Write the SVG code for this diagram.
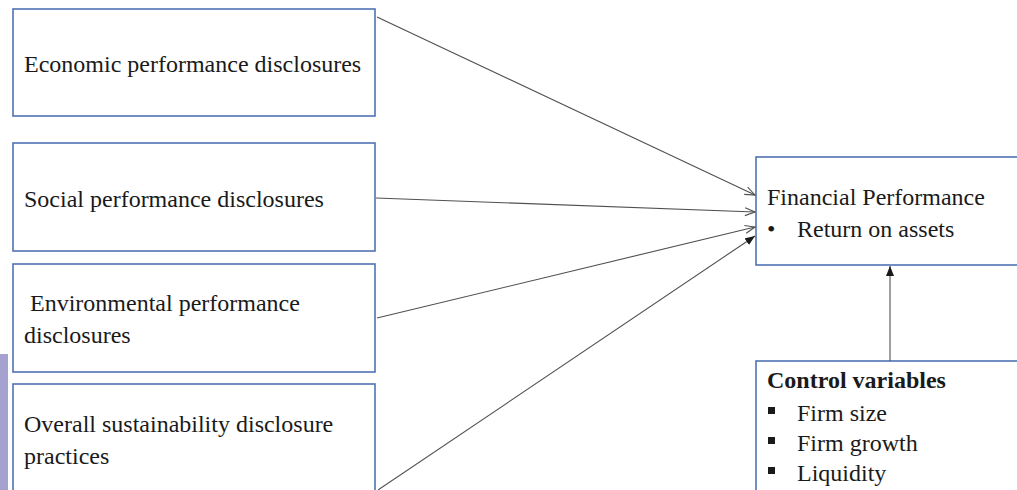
<svg xmlns="http://www.w3.org/2000/svg" width="1017" height="490" viewBox="0 0 1017 490">
<defs>
<style>
.box{fill:#fff;stroke:#4f72b3;stroke-width:1.6}
.t{font-family:"Liberation Serif","Times New Roman",serif;font-size:24px;fill:#1a1a1a}
.b{font-weight:bold}
.c{stroke:#505050;stroke-width:1.1;fill:none}
</style>
<marker id="open" viewBox="0 0 12 10" refX="11" refY="5" markerWidth="12" markerHeight="10" markerUnits="userSpaceOnUse" orient="auto">
<path d="M1,1 L11,5 L1,9" fill="none" stroke="#505050" stroke-width="1.1"/>
</marker>
<marker id="fill" viewBox="0 0 10 8" refX="10" refY="4" markerWidth="10" markerHeight="8" markerUnits="userSpaceOnUse" orient="auto">
<path d="M0,0 L10,4 L0,8 Z" fill="#1a1a1a"/>
</marker>
</defs>
<rect width="1017" height="490" fill="#fff"/>
<rect x="0" y="354" width="8" height="136" fill="#a6a2cf"/>
<g id="n1"><rect class="box" x="13" y="9" width="362" height="107"/><text class="t" x="24" y="72">Economic performance disclosures</text></g>
<g id="n2"><rect class="box" x="13" y="143" width="362" height="108"/><text class="t" x="24" y="207">Social performance disclosures</text></g>
<g id="n3"><rect class="box" x="13" y="264" width="362" height="108"/><text class="t" x="30" y="311">Environmental performance</text><text class="t" x="24" y="343">disclosures</text></g>
<g id="n4"><rect class="box" x="13" y="384" width="362" height="120"/><text class="t" x="24" y="432">Overall sustainability disclosure</text><text class="t" x="24" y="464">practices</text></g>
<g id="n5"><rect class="box" x="756" y="157" width="270" height="108"/><text class="t" x="767" y="205">Financial Performance</text><text class="t" x="767" y="237">•</text><text class="t" x="797" y="237">Return on assets</text></g>
<g id="n6"><rect class="box" x="756" y="361" width="270" height="140"/><text class="t b" x="767" y="388">Control variables</text>
<rect x="768" y="407" width="7" height="7" fill="#1a1a1a"/><text class="t" x="797" y="421">Firm size</text>
<rect x="768" y="437" width="7" height="7" fill="#1a1a1a"/><text class="t" x="797" y="451">Firm growth</text>
<rect x="768" y="467" width="7" height="7" fill="#1a1a1a"/><text class="t" x="797" y="481">Liquidity</text></g>
<g id="connectors">
<line class="c" x1="377" y1="17" x2="755" y2="195" marker-end="url(#open)"/>
<line class="c" x1="376" y1="198" x2="755" y2="212" marker-end="url(#open)"/>
<line class="c" x1="377" y1="318" x2="755" y2="227" marker-end="url(#open)"/>
<line class="c" x1="378" y1="490" x2="755" y2="236" marker-end="url(#fill)"/>
<line class="c" x1="890" y1="361" x2="890" y2="266" marker-end="url(#fill)"/>
</g>
</svg>
